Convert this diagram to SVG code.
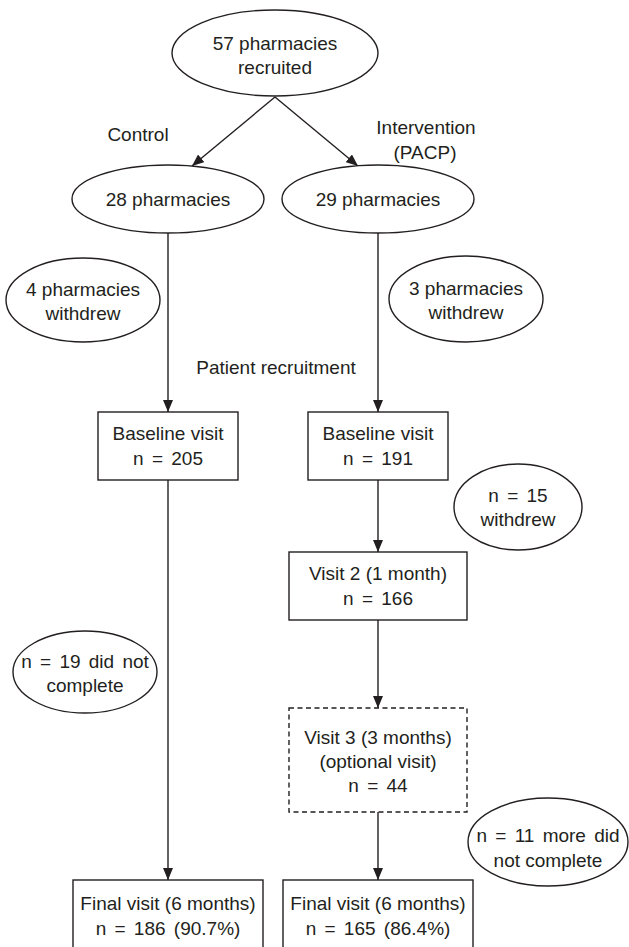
<svg xmlns="http://www.w3.org/2000/svg" width="629" height="947" viewBox="0 0 629 947">
<defs>
<marker id="ah" viewBox="0 0 12 10" refX="12" refY="5" markerWidth="12" markerHeight="10" markerUnits="userSpaceOnUse" orient="auto">
<path d="M0,0 L12,5 L0,10 Z" fill="#231f20"/>
</marker>
<style>
text{font-family:"Liberation Sans",Arial,sans-serif;font-size:19px;fill:#231f20;text-anchor:middle}
.w{word-spacing:3px}
.s{fill:#fff;stroke:#231f20;stroke-width:1.4}
.d{fill:#fff;stroke:#231f20;stroke-width:1.4;stroke-dasharray:5 3.5}
.c{fill:none;stroke:#231f20;stroke-width:1.4;marker-end:url(#ah)}
</style>
</defs>
<rect width="629" height="947" fill="#fff"/>
<g id="connectors">
<line class="c" x1="275" y1="97" x2="192" y2="166"/>
<line class="c" x1="275" y1="97" x2="358" y2="166"/>
<line class="c" x1="168" y1="233" x2="168" y2="412"/>
<line class="c" x1="378" y1="233" x2="378" y2="412"/>
<line class="c" x1="378" y1="480" x2="378" y2="552"/>
<line class="c" x1="378" y1="620" x2="378" y2="708"/>
<line class="c" x1="168" y1="480" x2="168" y2="880"/>
<line class="c" x1="378" y1="812" x2="378" y2="880"/>
</g>
<g id="labels">
<text x="138" y="141">Control</text>
<text x="426" y="134">Intervention</text>
<text x="425" y="159">(PACP)</text>
<text x="276" y="374">Patient recruitment</text>
</g>
<g id="n-recruited">
<ellipse class="s" cx="275" cy="53" rx="103" ry="43"/>
<text x="275" y="50">57 pharmacies</text>
<text x="275" y="74">recruited</text>
</g>
<g id="n-control">
<ellipse class="s" cx="168" cy="199" rx="96" ry="34"/>
<text x="168" y="206">28 pharmacies</text>
</g>
<g id="n-intervention">
<ellipse class="s" cx="378" cy="199" rx="96" ry="34"/>
<text x="378" y="206">29 pharmacies</text>
</g>
<g id="n-withdrew4">
<ellipse class="s" cx="83" cy="300" rx="77" ry="42"/>
<text x="83" y="296">4 pharmacies</text>
<text x="83" y="320">withdrew</text>
</g>
<g id="n-withdrew3">
<ellipse class="s" cx="466" cy="299" rx="77" ry="43"/>
<text x="466" y="295">3 pharmacies</text>
<text x="466" y="319">withdrew</text>
</g>
<g id="n-base-control">
<rect class="s" x="98" y="412" width="140" height="68"/>
<text x="168" y="440">Baseline visit</text>
<text class="w" x="168" y="465">n = 205</text>
</g>
<g id="n-base-int">
<rect class="s" x="308" y="412" width="140" height="68"/>
<text x="378" y="440">Baseline visit</text>
<text class="w" x="378" y="465">n = 191</text>
</g>
<g id="n-withdrew15">
<ellipse class="s" cx="518" cy="507" rx="64" ry="43"/>
<text class="w" x="518" y="502">n = 15</text>
<text x="518" y="526">withdrew</text>
</g>
<g id="n-visit2">
<rect class="s" x="289" y="552" width="178" height="68"/>
<text x="378" y="580">Visit 2 (1 month)</text>
<text class="w" x="378" y="605">n = 166</text>
</g>
<g id="n-nc19">
<ellipse class="s" cx="85" cy="672" rx="72" ry="41"/>
<text class="w" x="85" y="668">n = 19 did not</text>
<text x="85" y="692">complete</text>
</g>
<g id="n-visit3">
<rect class="d" x="289" y="708" width="178" height="104"/>
<text x="378" y="744">Visit 3 (3 months)</text>
<text x="378" y="768">(optional visit)</text>
<text class="w" x="378" y="792">n = 44</text>
</g>
<g id="n-nc11">
<ellipse class="s" cx="548" cy="842" rx="80" ry="44"/>
<text class="w" x="548" y="842">n = 11 more did</text>
<text x="548" y="867">not complete</text>
</g>
<g id="n-final-control">
<rect class="s" x="73" y="880" width="190" height="80"/>
<text x="168" y="910">Final visit (6 months)</text>
<text class="w" x="168" y="935">n = 186 (90.7%)</text>
</g>
<g id="n-final-int">
<rect class="s" x="283" y="880" width="190" height="80"/>
<text x="378" y="910">Final visit (6 months)</text>
<text class="w" x="378" y="935">n = 165 (86.4%)</text>
</g>
</svg>
